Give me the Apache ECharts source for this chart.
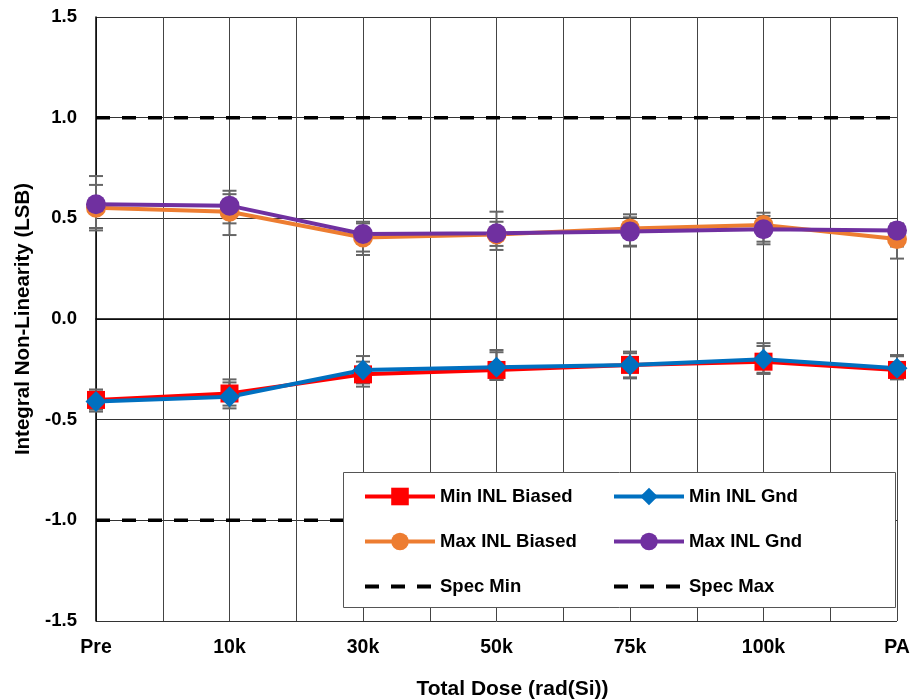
<!DOCTYPE html>
<html>
<head>
<meta charset="utf-8">
<script src="https://cdn.jsdelivr.net/npm/echarts@6/dist/echarts.min.js"></script>
<style>html,body{margin:0;padding:0;background:#fff}#c{width:920px;height:700px}</style>
</head>
<body>
<div id="c"></div>
<script>
var doses = ['Pre', '10k', '30k', '50k', '75k', '100k', 'PA'];
var yTicks = [-1.5, -1.0, -0.5, 0.0, 0.5, 1.0, 1.5];

var minBiased     = [-0.402, -0.370, -0.275, -0.253, -0.228, -0.212, -0.253];
var minBiasedLow  = [-0.460, -0.444, -0.336, -0.303, -0.295, -0.273, -0.300];
var minBiasedHigh = [-0.350, -0.300, -0.212, -0.154, -0.162, -0.134, -0.179];

var minGnd     = [-0.410, -0.386, -0.253, -0.240, -0.228, -0.200, -0.245];
var minGndLow  = [-0.450, -0.430, -0.320, -0.300, -0.290, -0.267, -0.290];
var minGndHigh = [-0.360, -0.315, -0.184, -0.165, -0.170, -0.120, -0.185];

var maxBiased     = [0.553, 0.533, 0.405, 0.420, 0.450, 0.467, 0.397];
var maxBiasedLow  = [0.452, 0.417, 0.318, 0.343, 0.360, 0.371, 0.300];
var maxBiasedHigh = [0.666, 0.620, 0.475, 0.483, 0.505, 0.512, 0.470];

var maxGnd     = [0.570, 0.563, 0.422, 0.426, 0.434, 0.446, 0.440];
var maxGndLow  = [0.440, 0.475, 0.335, 0.363, 0.364, 0.384, 0.360];
var maxGndHigh = [0.710, 0.637, 0.483, 0.533, 0.520, 0.528, 0.475];

var specMin = -1.0;
var specMax = 1.0;

function pts(arr) { return arr.map(function (v, i) { return [i, v]; }); }
function bars(lo, hi) { return lo.map(function (v, i) { return [i, v, hi[i]]; }); }

function errRender(params, api) {
  var x = api.value(0);
  var p1 = api.coord([x, api.value(1)]);
  var p2 = api.coord([x, api.value(2)]);
  var w = 7;
  var st = { stroke: '#666666', lineWidth: 2, fill: null };
  return {
    type: 'group',
    children: [
      { type: 'line', shape: { x1: p1[0], y1: p1[1], x2: p2[0], y2: p2[1] }, style: st },
      { type: 'line', shape: { x1: p1[0] - w, y1: p1[1], x2: p1[0] + w, y2: p1[1] }, style: st },
      { type: 'line', shape: { x1: p2[0] - w, y1: p2[1], x2: p2[0] + w, y2: p2[1] }, style: st }
    ]
  };
}
function errSeries(lo, hi) {
  return { type: 'custom', renderItem: errRender, data: bars(lo, hi), z: 1, silent: true,
    encode: { x: 0, y: [1, 2] } };
}
function lineSeries(name, data, color, symbol, size) {
  return { name: name, type: 'line', data: pts(data), symbol: symbol, symbolSize: size,
    lineStyle: { color: color, width: 4 }, itemStyle: { color: color }, z: 3 };
}

var bold = { fontFamily: 'Liberation Sans, Arial, sans-serif', fontWeight: 'bold', color: '#000' };
var legendText = Object.assign({ fontSize: 18.5 }, bold);
var legendCommon = { orient: 'vertical', top: 487, padding: 0, itemWidth: 70, itemHeight: 22, itemGap: 26,
  z: 60, textStyle: legendText, selectedMode: false, lineStyle: { width: 4 } };
var hideSym = { opacity: 0 };

var chart = echarts.init(document.getElementById('c'), null, { renderer: 'canvas' });
chart.setOption({
  animation: false,
  backgroundColor: '#fff',
  grid: { left: 96, right: 23, top: 17, bottom: 79, outerBoundsMode: 'none', containLabel: false },
  xAxis: {
    type: 'value', min: 0, max: doses.length - 1, interval: 0.5,
    name: 'Total Dose (rad(Si))', nameLocation: 'middle', nameGap: 58,
    nameTextStyle: Object.assign({ fontSize: 21, padding: [0, 0, 0, 32] }, bold),
    axisLine: { show: true, lineStyle: { color: '#000', width: 1.5 } },
    axisTick: { show: false },
    axisLabel: Object.assign({ fontSize: 19.5, margin: 17,
      formatter: function (v) { return Number.isInteger(v) ? doses[v] : ''; } }, bold),
    splitLine: { show: true, lineStyle: { color: '#444', width: 1 } }
  },
  yAxis: {
    type: 'value', min: yTicks[0], max: yTicks[yTicks.length - 1], interval: 0.5,
    name: 'Integral Non-Linearity (LSB)', nameLocation: 'middle', nameGap: 62,
    nameTextStyle: Object.assign({ fontSize: 20.5 }, bold),
    axisLine: { show: true, lineStyle: { color: '#000', width: 1.5 } },
    axisTick: { show: false },
    axisLabel: Object.assign({ fontSize: 18.5, margin: 19,
      formatter: function (v) { return v.toFixed(1); } }, bold),
    splitLine: { show: true, lineStyle: { color: '#333', width: 1 } }
  },
  graphic: [{
    type: 'rect', left: 343, top: 472, z: 50,
    shape: { width: 552, height: 135 },
    style: { fill: '#fff', stroke: '#555', lineWidth: 1 }
  }],
  legend: [
    Object.assign({ left: 363, data: ['Min INL Biased', 'Max INL Biased',
      { name: 'Spec Min', itemStyle: hideSym }] }, legendCommon),
    Object.assign({ left: 612, data: ['Min INL Gnd', 'Max INL Gnd',
      { name: 'Spec Max', itemStyle: hideSym }] }, legendCommon)
  ],
  series: [
    errSeries(minBiasedLow, minBiasedHigh),
    errSeries(minGndLow, minGndHigh),
    errSeries(maxBiasedLow, maxBiasedHigh),
    errSeries(maxGndLow, maxGndHigh),
    { name: 'Spec Min', type: 'line', data: [[0, specMin], [doses.length - 1, specMin]], symbol: 'none',
      lineStyle: { color: '#000', width: 3.5, type: [14, 12] }, itemStyle: { color: '#000' }, z: 2 },
    { name: 'Spec Max', type: 'line', data: [[0, specMax], [doses.length - 1, specMax]], symbol: 'none',
      lineStyle: { color: '#000', width: 3.5, type: [14, 12] }, itemStyle: { color: '#000' }, z: 2 },
    lineSeries('Min INL Biased', minBiased, '#ff0000', 'rect', 18),
    lineSeries('Max INL Biased', maxBiased, '#ed7d31', 'circle', 20),
    lineSeries('Min INL Gnd', minGnd, '#0070c0', 'diamond', 21),
    lineSeries('Max INL Gnd', maxGnd, '#7030a0', 'circle', 20)
  ]
});
</script>
</body>
</html>
